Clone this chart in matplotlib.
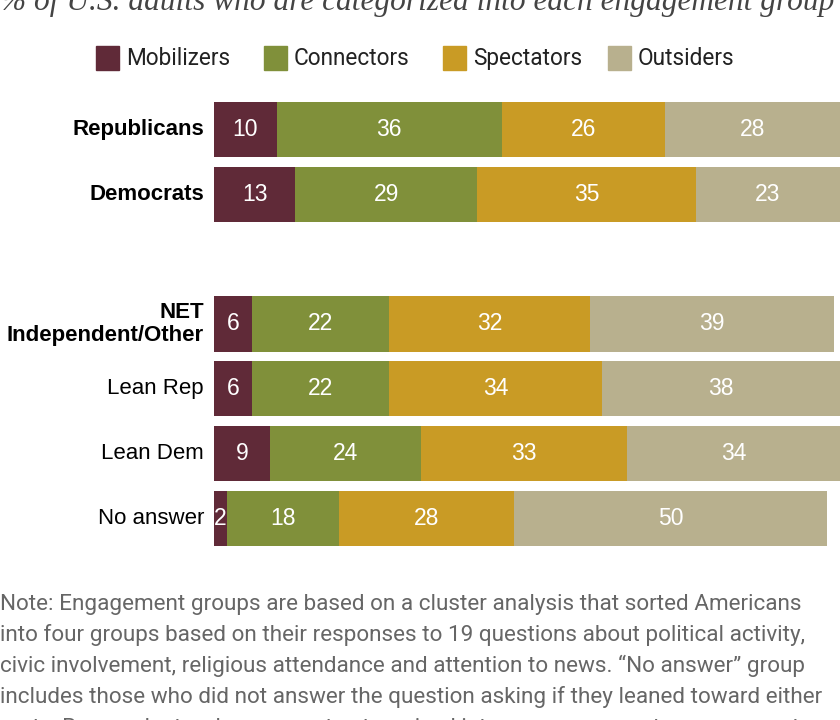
import matplotlib
matplotlib.use("Agg")
import matplotlib.pyplot as plt
from matplotlib import font_manager
from matplotlib.patches import Rectangle

categories = ["Republicans", "Democrats", "", "NET\nIndependent/Other", "Lean Rep", "Lean Dem", "No answer"]
bold_flags = [True, True, False, True, False, False, False]
series_names = ["Mobilizers", "Connectors", "Spectators", "Outsiders"]
mobilizers = [10, 13, None, 6, 6, 9, 2]
connectors = [36, 29, None, 22, 22, 24, 18]
spectators = [26, 35, None, 32, 34, 33, 28]
outsiders = [28, 23, None, 39, 38, 34, 50]
colors = ["#602A38", "#80903A", "#C99B25", "#B8B08E"]

subtitle = "% of U.S. adults who are categorized into each engagement group"
note_lines = [
    "Note: Engagement groups are based on a cluster analysis that sorted Americans",
    "into four groups based on their responses to 19 questions about political activity,",
    "civic involvement, religious attendance and attention to news. \u201cNo answer\u201d group",
    "includes those who did not answer the question asking if they leaned toward either",
    "party. Respondents who were not categorized into an engagement group are not",
]

avail = {f.name for f in font_manager.fontManager.ttflist}
cond = "Liberation Sans Narrow" if "Liberation Sans Narrow" in avail else "Roboto"
main = "Liberation Sans"

W, H = 840, 720
fig = plt.figure(figsize=(W / 100, H / 100), dpi=100)
fig.patch.set_facecolor("white")

def fx(px):
    return px / W

def fy(py):
    return 1 - py / H

ax = fig.add_axes([fx(214), fy(551), fx(840) - fx(214), fy(97) - fy(551)])
series = [mobilizers, connectors, spectators, outsiders]
for i, cat in enumerate(categories):
    left = 0
    if series[0][i] is None:
        continue
    for s, c in zip(series, colors):
        v = s[i]
        ax.barh(i, v, left=left, height=0.85, color=c, edgecolor="none")
        ax.text(left + v / 2, i, str(v), ha="center", va="center",
                color="white", fontsize=16.5, family=main)
        left += v
ax.set_xlim(0, 100)
ax.set_ylim(6.5, -0.5)
ax.axis("off")

# category labels
for i, cat in enumerate(categories):
    if not cat:
        continue
    ax.annotate(cat, xy=(0, i), xycoords="data", xytext=(-10, 0),
                textcoords="offset pixels", ha="right", va="center",
                multialignment="right", fontsize=16, family=main,
                fontweight="bold" if bold_flags[i] else "normal",
                color="#000000", linespacing=1.1)

# subtitle (cut off at top, as in the source image)
fig.text(0, fy(10), subtitle, ha="left", va="baseline", fontsize=22.6,
         family="Liberation Serif", style="italic", color="#444444")

# legend
leg_x = [96, 264, 443, 608]
for x, name, c in zip(leg_x, series_names, colors):
    fig.patches.append(Rectangle((fx(x), fy(70)), fx(23), fy(46) - fy(70),
                                 transform=fig.transFigure, color=c))
    fig.text(fx(x + 30), fy(65), name, ha="left", va="baseline",
             fontsize=16.3, family=cond, color="#222222")

# notes
for k, line in enumerate(note_lines):
    fig.text(0, fy(610 + 31 * k), line, ha="left", va="baseline",
             fontsize=16.2, family=cond, color="#666666")

fig.savefig("out.png", dpi=100, facecolor="white")
